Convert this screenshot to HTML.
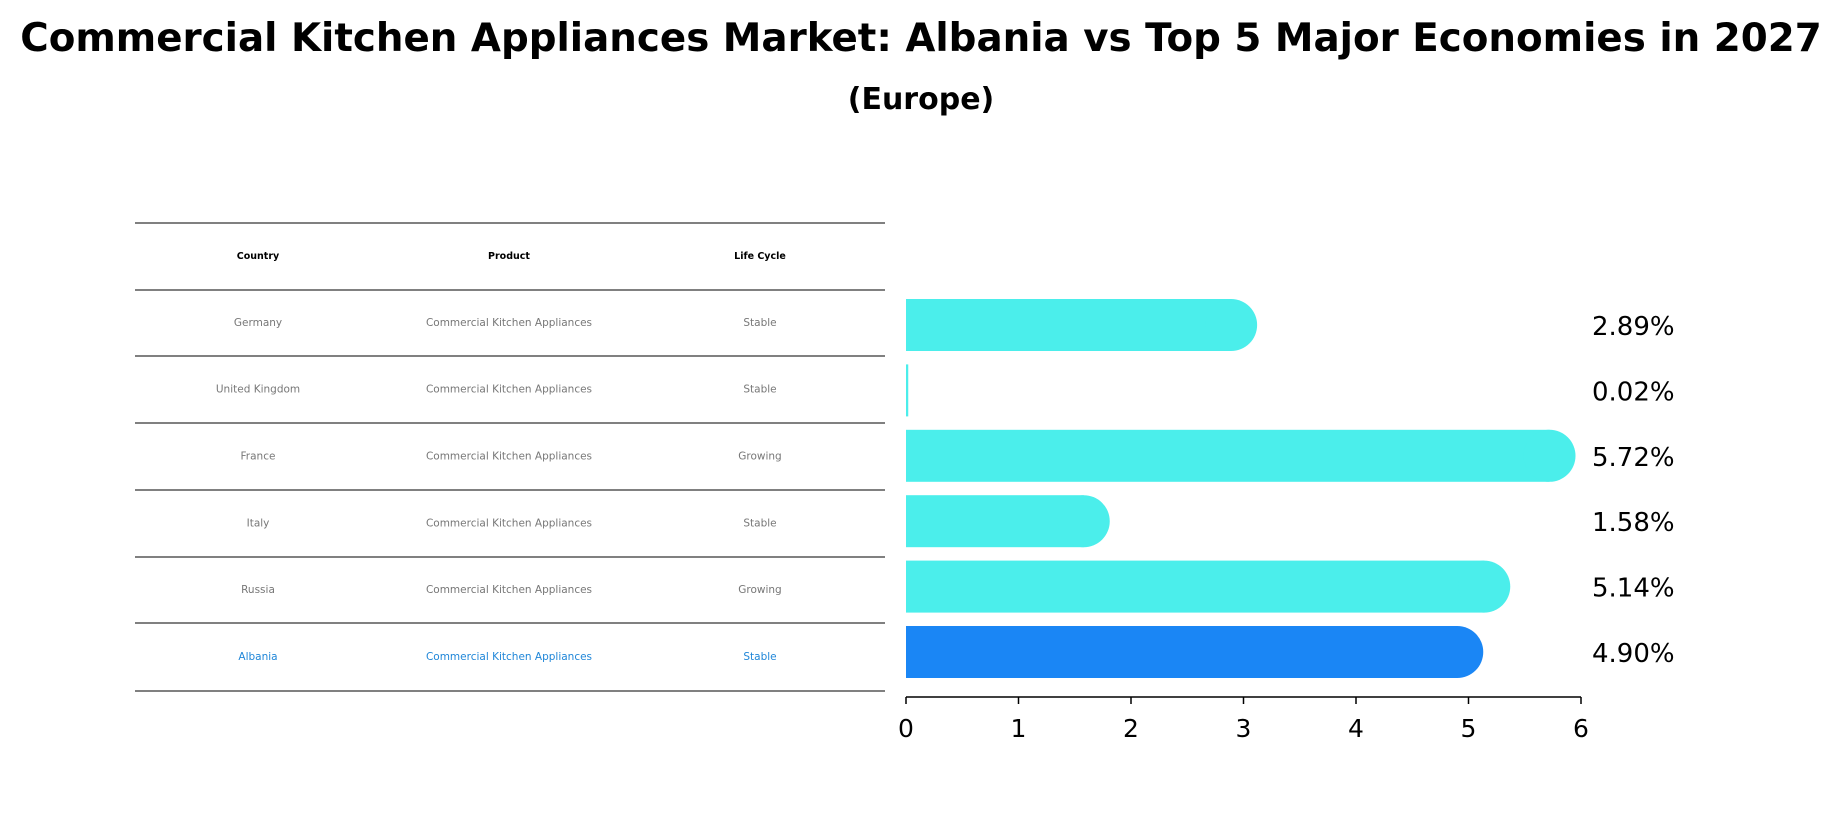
<!DOCTYPE html>
<html><head><meta charset="utf-8"><style>
body{margin:0;background:#fff;font-family:"DejaVu Sans","Liberation Sans",sans-serif;}
svg{display:block}
</style></head><body>
<svg id="c" width="1842" height="823" viewBox="0 0 1842 823">
<text x="921" y="51" text-anchor="middle" font-size="38.8" font-weight="bold">Commercial Kitchen Appliances Market: Albania vs Top 5 Major Economies in 2027</text>
<text x="921" y="109" text-anchor="middle" font-size="30" font-weight="bold">(Europe)</text>
<g id="table"></g>
<g id="bars"></g>
</svg>
<script>
const countries=["Germany","United Kingdom","France","Italy","Russia","Albania"];
const products=["Commercial Kitchen Appliances","Commercial Kitchen Appliances","Commercial Kitchen Appliances","Commercial Kitchen Appliances","Commercial Kitchen Appliances","Commercial Kitchen Appliances"];
const lifecycle=["Stable","Stable","Growing","Stable","Growing","Stable"];
const values=[2.89,0.02,5.72,1.58,5.14,4.90];
const valueLabels=["2.89%","0.02%","5.72%","1.58%","5.14%","4.90%"];
const xTicks=[0,1,2,3,4,5,6];
const NS="http://www.w3.org/2000/svg";
function mk(t,a,p){const e=document.createElementNS(NS,t);for(const k in a)e.setAttribute(k,a[k]);p.appendChild(e);return e;}
const tbl=document.getElementById('table');
const lineY=[223,290,356,423,490,557,623,691];
lineY.forEach((y,i)=>{const l=mk('line',{x1:135,x2:885,y1:y,y2:y,stroke:'#000','stroke-width':1},tbl);

});
const colX=[258,509,760];
["Country","Product","Life Cycle"].forEach((h,i)=>{const t=mk('text',{x:colX[i],y:259,'text-anchor':'middle','font-size':9.5,'font-weight':'bold'},tbl);t.textContent=h;

});
countries.forEach((c,r)=>{const y=(lineY[r+1]+lineY[r+2])/2+3;const col=c==="Albania"?"#1f86d8":"#777";
[c,products[r],lifecycle[r]].forEach((v,i)=>{const t=mk('text',{x:colX[i],y:y,'text-anchor':'middle','font-size':10.5,fill:col},tbl);t.textContent=v;

});});
const bars=document.getElementById('bars');
const x0=906,x1=1581,xmax=6;
const xs=v=>x0+(x1-x0)*v/xmax;
const rowY=r=>325+r*65.4;
const bh=52;
values.forEach((v,r)=>{const col=countries[r]==="Albania"?"#1a86f5":"#4beeeb";const cy=rowY(r);
const g=mk('g',{},bars);


mk('rect',{x:x0,y:cy-bh/2,width:Math.max(1.5,xs(v)-x0),height:bh,fill:col},g);
if(v>0.1)mk('circle',{cx:xs(v),cy:cy,r:bh/2,fill:col},g);
const t=mk('text',{x:1592,y:cy+10,'font-size':26,fill:'#000'},bars);t.textContent=valueLabels[r];

});
const ax=mk('line',{x1:x0,x2:x1,y1:697,y2:697,stroke:'#000','stroke-width':1.5},bars);


xTicks.forEach(v=>{const l=mk('line',{x1:xs(v),x2:xs(v),y1:697,y2:704,stroke:'#000','stroke-width':1.5},bars);


const t=mk('text',{x:xs(v),y:737,'text-anchor':'middle','font-size':25},bars);t.textContent=v;

});
</script>
</body></html>
